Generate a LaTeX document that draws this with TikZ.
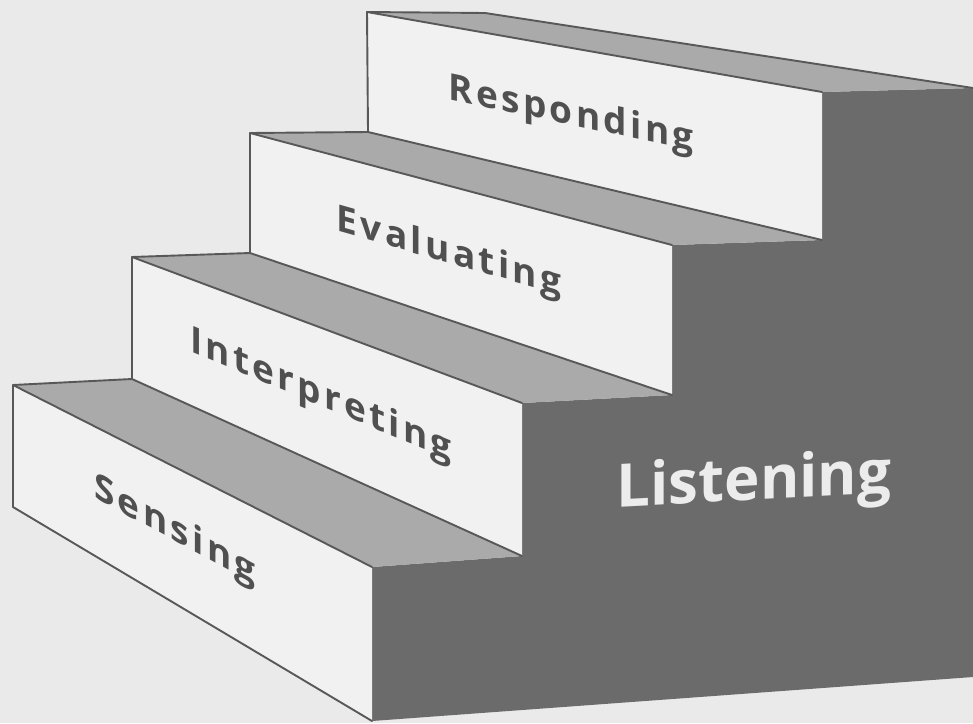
\documentclass[tikz,border=0pt]{standalone}
\usepackage{fontspec}
\newfontfamily\stepfont[LetterSpace=9]{Open Sans}
\newfontfamily\sidefont{Open Sans}
\definecolor{paper}{RGB}{234,234,234}
\definecolor{frontgray}{RGB}{241,241,241}
\definecolor{treadgray}{RGB}{170,170,170}
\definecolor{risergray}{RGB}{107,107,107}
\definecolor{edgegray}{RGB}{88,88,88}
\definecolor{labelgray}{RGB}{80,80,80}
\definecolor{sidetext}{RGB}{236,236,236}
\begin{document}
\begin{tikzpicture}[x=1pt,y=-1pt,
  front/.style={fill=frontgray},
  tread/.style={fill=treadgray},
  riser/.style={fill=risergray},
  edge/.style={draw=edgegray,line width=1.9pt,line join=round,line cap=round},
  steplabel/.style={font=\stepfont\bfseries\fontsize{37}{37}\selectfont,
    text=labelgray,anchor=base,inner sep=0pt},
  sidelabel/.style={font=\sidefont\bfseries\fontsize{60}{60}\selectfont,
    text=sidetext,anchor=base,inner sep=0pt}]

% page
\fill[paper] (0,0) rectangle (973,723);
\useasboundingbox (0,0) rectangle (973,723);

% shaded side of the whole staircase
\fill[riser] (372,567) -- (522,556) -- (522,403) -- (672,395) -- (672,245)
  -- (822,240) -- (822,92) -- (973,88) -- (973,677) -- (372,721) -- cycle;

% front faces
\fill[front] (13,385) -- (372,567) -- (372,721) -- (13,507) -- cycle;
\fill[front] (132,257) -- (522,403) -- (522,556) -- (132,379) -- cycle;
\fill[front] (250,133) -- (672,245) -- (672,395) -- (250,253) -- cycle;
\fill[front] (367,12) -- (822,92) -- (822,240) -- (368,131) -- cycle;

% treads
\fill[tread] (13,385) -- (132,379) -- (522,556) -- (372,567) -- cycle;
\fill[tread] (132,257) -- (250,253) -- (672,395) -- (522,403) -- cycle;
\fill[tread] (250,133) -- (368,132) -- (822,240) -- (672,245) -- cycle;
\fill[tread] (367,12) -- (485,13) -- (973,88) -- (822,92) -- cycle;

% outlines
\draw[edge] (372,721) -- (13,507) -- (13,385) -- (132,379) -- (522,556);
\draw[edge] (13,385) -- (372,567);
\draw[edge] (132,379) -- (132,257) -- (250,253) -- (672,395);
\draw[edge] (132,257) -- (522,403);
\draw[edge] (250,253) -- (250,133) -- (368,132) -- (822,240);
\draw[edge] (250,133) -- (672,245);
\draw[edge] (368,132) -- (367,12) -- (485,13) -- (973,88);
\draw[edge] (367,12) -- (822,92);

% step labels
\node[steplabel,yslant=-0.54] (sensing) at (175,541) {Sensing};
\node[steplabel,yslant=-0.42] (interpreting) at (321,406) {Interpreting};
\node[steplabel,yslant=-0.285] (evaluating) at (449,263) {Evaluating};
\node[steplabel,yslant=-0.21] (responding) at (571,125) {Responding};

% side label
\node[sidelabel,yslant=0.053] (listening) at (754,500) {Listening};
\end{tikzpicture}
\end{document}
